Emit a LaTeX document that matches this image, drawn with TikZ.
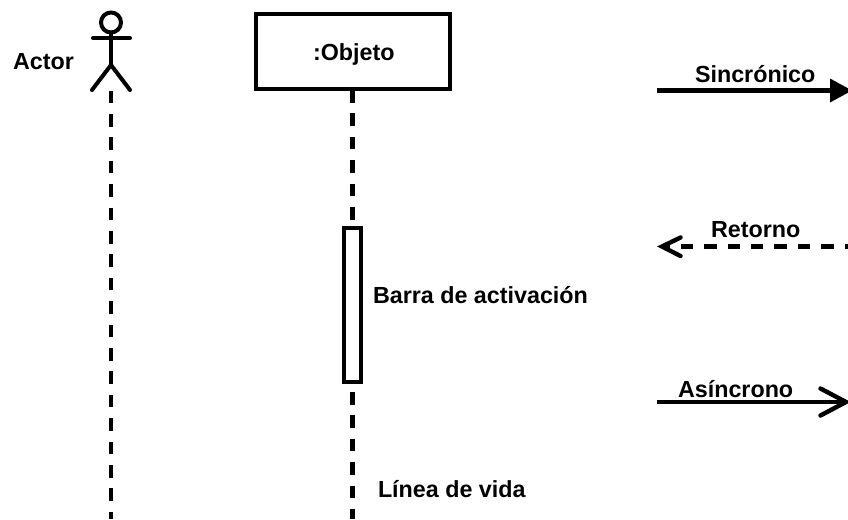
\documentclass[tikz,border=0pt]{standalone}
\usepackage{fontspec}
\setmainfont{Liberation Sans}
\usetikzlibrary{arrows.meta}
\tikzset{
  every node/.style={inner sep=0pt,outer sep=0pt},
  lbl/.style={anchor=base west,font=\fontsize{23.3}{26}\selectfont\bfseries,text=black},
  ln/.style={line width=4.4pt,draw=black},
  stick/.style={line width=4pt,draw=black,line cap=round},
  barb/.style={line width=4.4pt,draw=black,line cap=round,line join=miter},
  lifeline/.style={line width=4.4pt,draw=black,dash pattern=on 12.5pt off 10.9pt},
  syncarrow/.style={ln,-{Triangle[length=22pt,width=24pt,line width=0pt]}},
  retline/.style={line width=4.4pt,draw=black,dash pattern=on 12.5pt off 10.9pt}
}
\begin{document}
\begin{tikzpicture}[x=1pt,y=-1pt]
\useasboundingbox (0,0) rectangle (848,519);
\clip (0,0) rectangle (848,519);
% actor
\node[circle,draw=black,line width=4pt,minimum size=20pt] (head) at (111,22.5) {};
\coordinate (armL) at (93,38);
\coordinate (armR) at (130,38);
\coordinate (hip) at (111,65);
\coordinate (legL) at (92,90);
\coordinate (legR) at (130,90);
\draw[stick] (head.south) -- (hip);
\draw[stick] (armL) -- (armR);
\draw[stick] (legL) -- (hip) -- (legR);
\coordinate (actorTop) at (111,90);
\coordinate (actorEnd) at (111,519);
\draw[lifeline,dash phase=-24pt] (actorTop) -- (actorEnd);
\node[lbl] (actorLbl) at (13,70) {Actor};
% object
\node[draw=black,line width=4.4pt,minimum width=194pt,minimum height=75pt] (obj) at (353,51.5) {};
\node[lbl] (objLbl) at (313,60) {:Objeto};
\node[draw=black,line width=4.4pt,fill=white,minimum width=17pt,minimum height=154pt] (bar) at (352.5,305) {};
\coordinate (objEnd) at (352.5,519);
\draw[lifeline,dash phase=-1pt] (obj.south -| bar.north) -- (bar.north);
\draw[lifeline,dash phase=-10pt] (bar.south) -- (objEnd);
\node[lbl] (barLbl) at (373,303) {Barra de activación};
\node[lbl] (lifeLbl) at (378,497) {Línea de vida};
% legend
\coordinate (s1) at (657,90.5);
\coordinate (s2) at (852,90.5);
\draw[syncarrow] (s1) -- (s2);
\node[lbl] (sLbl) at (695,82) {Sincrónico};
\coordinate (r1) at (848,246.5);
\coordinate (r2) at (662,246.5);
\coordinate (r3) at (680.5,237.5);
\coordinate (r4) at (680.5,256);
\draw[retline,dash phase=9pt] (r1) -- (r2);
\draw[barb] (r3) -- (r2) -- (r4);
\node[lbl] (rLbl) at (711,237) {Retorno};
\coordinate (a1) at (657,402);
\coordinate (a2) at (846,402);
\coordinate (a3) at (820.5,388.5);
\coordinate (a4) at (820.5,415.5);
\draw[ln] (a1) -- (a2);
\draw[barb] (a3) -- (a2) -- (a4);
\node[lbl] (aLbl) at (678,397) {Asíncrono};
\end{tikzpicture}
\end{document}
